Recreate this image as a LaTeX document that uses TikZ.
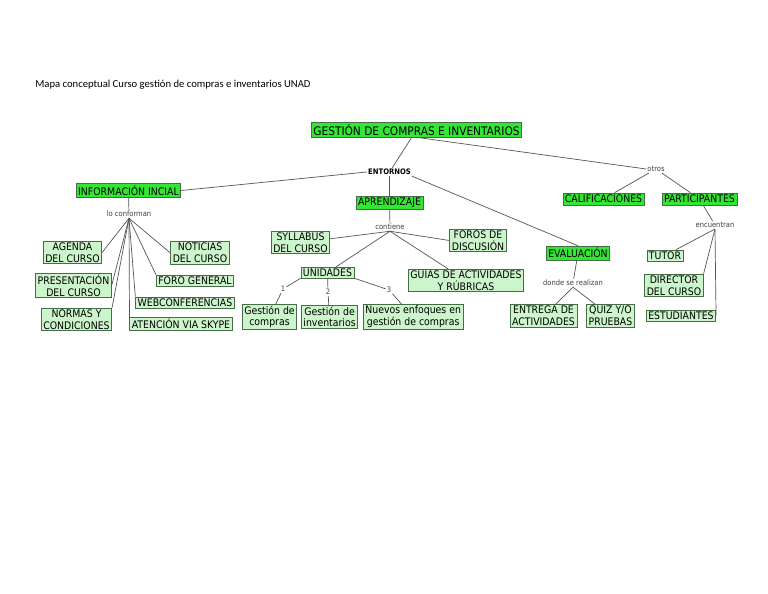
\documentclass[tikz,border=0pt]{standalone}
\usepackage{fontspec}
\setmainfont{DejaVu Sans Condensed}
\newfontfamily\titlefont{Carlito}
\usepackage{tikz}
\usetikzlibrary {positioning}
\definecolor{mainGreen}{RGB}{52,230,52}
\definecolor{subGreen}{RGB}{204,245,204}
\definecolor{edgeGreen}{RGB}{70,110,70}
\definecolor{lineGray}{RGB}{85,85,85}
\tikzset{
boxMain/.style={rectangle,draw=edgeGreen,fill=mainGreen,inner xsep=2pt,inner ysep=2pt,font=\fontsize{10.4}{12}\selectfont}
}
\tikzset{
boxSub/.style={rectangle,draw=edgeGreen,fill=subGreen,inner xsep=2pt,inner ysep=1.5pt,align=center,font=\fontsize{10.4}{11.8}\selectfont}
}
\tikzset{
linkWord/.style={inner sep=1pt,text=black!75,font=\fontsize{7.5}{8.5}\selectfont}
}

\begin{document}
\begin{tikzpicture}[x=1pt,y=-1pt,line width=0.7pt,conn/.style={draw=lineGray}]
\useasboundingbox[fill=white] (0,0) rectangle (768,594);

\node[anchor=base west,inner sep=0pt,font=\titlefont\fontsize{10.65}{12}\selectfont] (titulo) at (35,87) {Mapa conceptual Curso gestión de compras e inventarios UNAD};

\node[boxMain,font=\fontsize{11.8}{14}\selectfont] (gestion) at (416.5,130) {GESTIÓN DE COMPRAS E INVENTARIOS};
\node[linkWord,font=\bfseries\fontsize{7.6}{8.5}\selectfont,text=black] (entornos) at (389.5,172) {ENTORNOS};
\node[linkWord] (otros) at (656,169) {otros};
%------------------------------------------------------------------------------------------------------------%
\node[boxMain] (info) at (128.5,190.5) {INFORMACIÓN INCIAL};
\node[linkWord] (lo) at (129,214) {lo conforman};
\node[boxSub] (agenda) at (72.5,252.5) {AGENDA\\DEL CURSO};
\node[boxSub] (noticias) at (200,253) {NOTICIAS\\DEL CURSO};
\node[boxSub] (presentacion) at (73.5,285.5) {PRESENTACIÓN\\DEL CURSO};
\node[boxSub] (foro) at (195,280.5) {FORO GENERAL};
\node[boxSub] (web) at (185,302.5) {WEBCONFERENCIAS};
\node[boxSub] (normas) at (76.5,319.5) {NORMAS Y\\CONDICIONES};
\node[boxSub] (atencion) at (181,324) {ATENCIÓN VIA SKYPE};
%------------------------------------------------------------------------------------------------------------%
\node[boxMain] (aprendizaje) at (389.5,203) {APRENDIZAJE};
\node[linkWord] (contiene) at (390,227) {contiene};
\node[boxSub] (syllabus) at (300.5,242.5) {SYLLABUS\\DEL CURSO};
\node[boxSub] (foros) at (478,240.5) {FOROS DE\\DISCUSIÓN};
\node[boxSub] (unidades) at (327.5,272.5) {UNIDADES};
\node[boxSub] (guias) at (466,280.5) {GUIAS DE ACTIVIDADES\\Y RÚBRICAS};
\node[boxSub] (gc) at (269.5,317) {Gestión de\\compras};
\node[boxSub,right=4pt of gc] (gi) {Gestión de\\inventarios};
\node[boxSub,right=5pt of gi] (nuevos) {Nuevos enfoques en\\gestión de compras};
\node[linkWord] (n1) at (283,289) {1};
\node[linkWord] (n2) at (328,292) {2};
\node[linkWord] (n3) at (389,290) {3};
%------------------------------------------------------------------------------------------------------------%
\node[boxMain] (evaluacion) at (578,253) {EVALUACIÓN};
\node[linkWord] (donde) at (573,283) {donde se realizan};
\node[boxSub] (entrega) at (543.5,316) {ENTREGA DE\\ACTIVIDADES};
\node[boxSub,right=9pt of entrega] (quiz) {QUIZ Y/O\\PRUEBAS};
%------------------------------------------------------------------------------------------------------------%
\node[boxMain] (calif) at (603.5,199) {CALIFICACIONES};
\node[boxMain] (partic) at (699.5,199) {PARTICIPANTES};
\node[linkWord] (encuentran) at (715,225) {encuentran};
\node[boxSub] (tutor) at (665,255.5) {TUTOR};
\node[boxSub] (director) at (674,285.5) {DIRECTOR\\DEL CURSO};
\node[boxSub] (estudiantes) at (681,315.5) {ESTUDIANTES};

\draw[conn] (gestion) -- (entornos);
\draw[conn] ([xshift=4pt]gestion.south) -- (otros.west);
\draw[conn] (entornos.west) -- (info.east);
\draw[conn] (entornos) -- (aprendizaje);
\draw[conn] (entornos.south east) -- (evaluacion.north);
\draw[conn] (otros) -- (calif);
\draw[conn] (otros) -- (partic);

\draw[conn] (info) -- (lo);
\draw[conn] (lo.south) -- (agenda.east);
\draw[conn] (lo.south) -- (noticias.west);
\draw[conn] (lo.south) -- (presentacion.east);
\draw[conn] (lo.south) -- (foro.north west);
\draw[conn] (lo.south) -- (web.north west);
\draw[conn] (lo.south) -- (normas.north east);
\draw[conn] (lo.south) -- (atencion.north west);

\draw[conn] (aprendizaje) -- (contiene);
\draw[conn] (contiene.south) -- (syllabus);
\draw[conn] (contiene.south) -- (foros.west);
\draw[conn] (contiene.south) -- (unidades);
\draw[conn] (contiene.south) -- (guias);
\draw[conn] (unidades.south west) -- (n1) -- (gc);
\draw[conn] (unidades) -- (n2) -- (gi);
\draw[conn] (unidades.south east) -- (n3) -- (nuevos);

\draw[conn] (evaluacion) -- (donde);
\draw[conn] (donde.south) -- (entrega);
\draw[conn] (donde.south) -- (quiz);

\draw[conn] (partic) -- (encuentran);
\draw[conn] (encuentran.south) -- (tutor);
\draw[conn] (encuentran.south) -- (director.north east);
\draw[conn] (encuentran.south) -- (estudiantes.east);

\end{tikzpicture}
\end{document}
